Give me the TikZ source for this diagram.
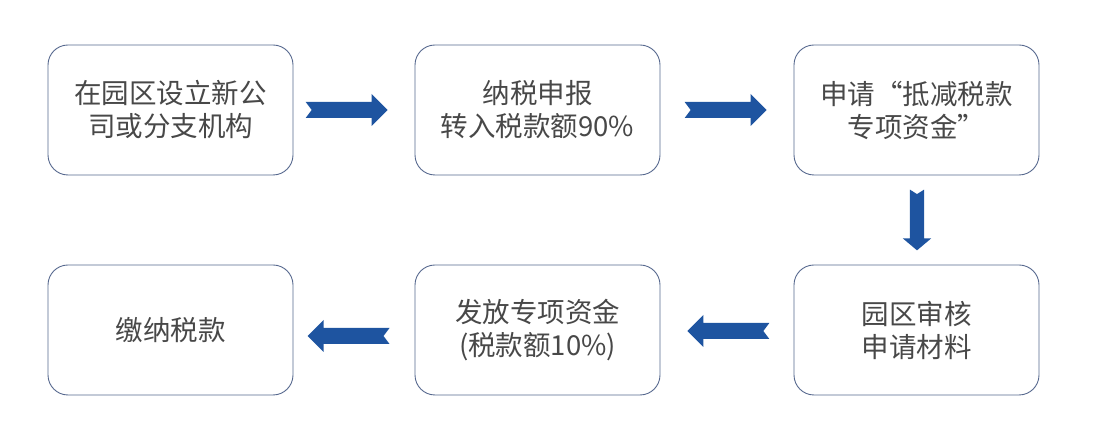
\documentclass[tikz,border=0pt]{standalone}
\usepackage{fontspec}
\usepackage{xcolor}
\setmainfont{Noto Sans CJK SC}
\usetikzlibrary{positioning,calc}
\definecolor{boxline}{RGB}{86,104,142}
\definecolor{txtgray}{RGB}{72,72,72}
\definecolor{arrblue}{RGB}{30,84,160}

\begin{document}
\begin{tikzpicture}[x=1pt, y=1pt,
     node distance = 0pt,
StepBox/.style={draw=boxline, line width=0.9pt, rounded corners=20pt,
                minimum width=245pt, minimum height=130pt, align=center,
                text=txtgray, font=\fontsize{27.5}{33}\selectfont, outer sep=0pt},
blockarr/.pic={
  \fill[arrblue] (-41,8) -- (25,8) -- (25,16) -- (41,0) -- (25,-16)
      -- (25,-8) -- (-41,-8) -- (-35,0) -- cycle;},
  ]
\useasboundingbox (0,0) rectangle (1111,443);
\node [StepBox] (setup) at (170.5,333) {在园区设立新公\\司或分支机构};
  \node [StepBox, right=122pt of setup] (declare) {纳税申报\\转入税款额90\%};
  \node [StepBox, right=134pt of declare] (apply) {申请“抵减税款\\专项资金”};
  \node [StepBox, below=90pt of apply] (review) {园区审核\\申请材料};
  \node [StepBox, left=134pt of review] (grant) {发放专项资金\\(税款额10\%)};
  \node [StepBox, left=122pt of grant] (pay) {缴纳税款};
% arrows between the steps
\pic at ($(setup.east)!0.44!(declare.west)$) {blockarr};
\pic at ($(declare.east)!0.49!(apply.west)$) {blockarr};
\pic[rotate=-90, xscale=0.74, yscale=0.88] at ($(apply.south)!0.5!(review.north)+(0.5,0)$) {blockarr};
\pic[rotate=180] at ($(review.west)!0.49!(grant.east)+(0,-1)$) {blockarr};
\pic[rotate=180] at ($(grant.west)!0.545!(pay.east)+(0,-6)$) {blockarr};
\end{tikzpicture}
\end{document}
